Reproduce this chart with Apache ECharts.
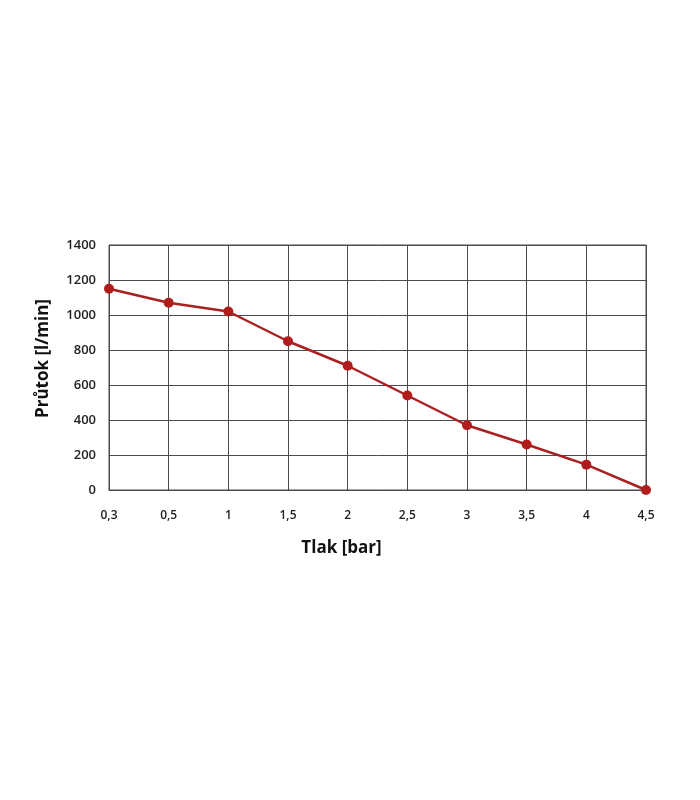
<!DOCTYPE html>
<html><head><meta charset="utf-8">
<script src="https://cdn.jsdelivr.net/npm/echarts@6/dist/echarts.min.js"></script>
<style>html,body{margin:0;padding:0;background:#fff}#c{width:700px;height:800px}</style>
</head><body><div id="c"></div>
<script>
const categories = ['0,3','0,5','1','1,5','2','2,5','3','3,5','4','4,5'];
const flowValues = [1150, 1070, 1020, 850, 710, 540, 370, 260, 145, 0];
const xName = 'Tlak [bar]';
const yName = 'Průtok [l/min]';
const chart = echarts.init(document.getElementById('c'));
const lineCol = '#4a4a4a';
chart.setOption({
  backgroundColor: '#fff',
  animation: false,
  grid: {left: 109, right: 54, top: 245, bottom: 310, show: true, borderColor: lineCol, borderWidth: 1},
  xAxis: {
    type: 'category', data: categories, boundaryGap: false,
    name: xName, nameLocation: 'middle', nameGap: 50,
    nameTextStyle: {fontFamily: 'Open Sans', fontWeight: 'bold', fontSize: 17, color: '#111', padding: [0, 72, 0, 0]},
    axisLine: {lineStyle: {color: lineCol, width: 1}},
    axisTick: {show: false},
    axisLabel: {fontFamily: 'Open Sans', fontWeight: 600, fontSize: 12, color: '#222', margin: 20},
    splitLine: {show: true, lineStyle: {color: lineCol, width: 1}}
  },
  yAxis: {
    type: 'value', min: 0, max: 1400, interval: 200,
    name: yName, nameLocation: 'middle', nameGap: 57, nameRotate: 90,
    nameTextStyle: {fontFamily: 'Open Sans', fontWeight: 'bold', fontSize: 17, color: '#111', padding: [0, 0, 0, 18]},
    axisLine: {show: false}, axisTick: {show: false},
    axisLabel: {fontFamily: 'Open Sans', fontWeight: 600, fontSize: 13, color: '#222', margin: 13,
      formatter: v => String(v)},
    splitLine: {show: true, lineStyle: {color: lineCol, width: 1}}
  },
  series: [{
    type: 'line', data: flowValues, symbol: 'circle', symbolSize: 10,
    lineStyle: {color: '#a82020', width: 2.5},
    itemStyle: {color: '#b01c1c'}
  }]
});
</script></body></html>
